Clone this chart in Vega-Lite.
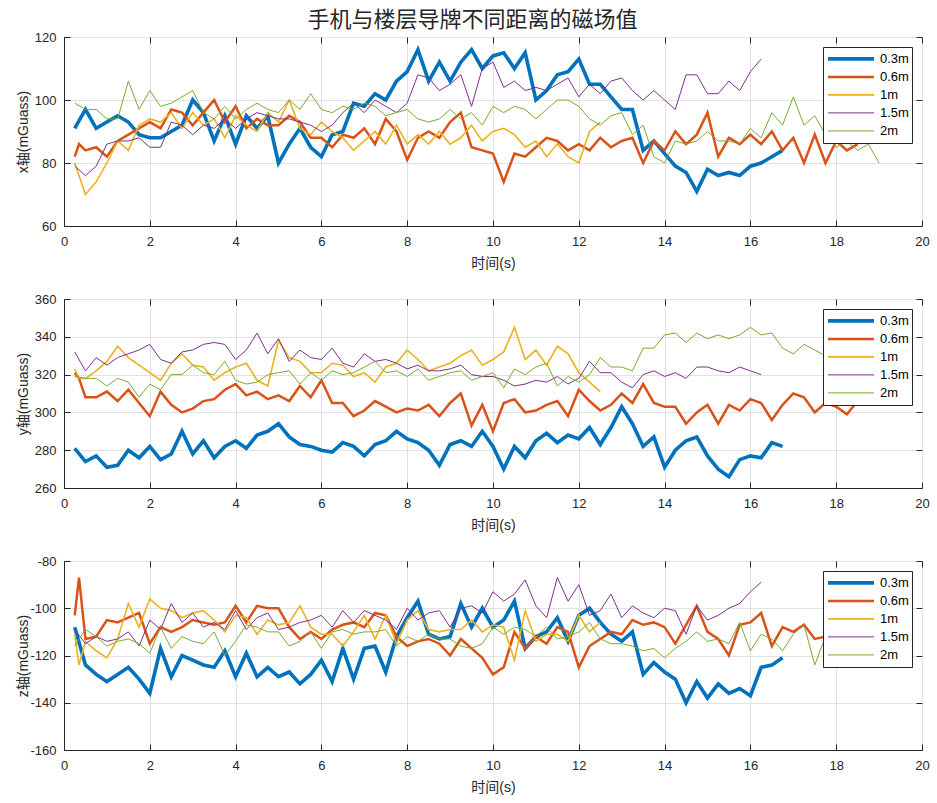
{
"$schema":"https://vega.github.io/schema/vega-lite/v6.json",
"padding":{"left":15,"top":8,"right":16,"bottom":7},
"title":{"text":"手机与楼层导牌不同距离的磁场值","font":"Noto Sans CJK SC","fontSize":22,"fontWeight":"normal","color":"#262626","anchor":"middle","offset":-1},
"data":{"values":[
{"s":"0.3m","t":0.25,"x":91,"y":281,"z":-108},
{"s":"0.3m","t":0.5,"x":97,"y":274,"z":-124},
{"s":"0.3m","t":0.75,"x":91,"y":277,"z":-128},
{"s":"0.3m","t":1.0,"x":93,"y":271,"z":-131},
{"s":"0.3m","t":1.25,"x":95,"y":272,"z":-128},
{"s":"0.3m","t":1.5,"x":93,"y":280,"z":-125},
{"s":"0.3m","t":1.75,"x":89,"y":276,"z":-130},
{"s":"0.3m","t":2.0,"x":88,"y":282,"z":-136},
{"s":"0.3m","t":2.25,"x":88,"y":275,"z":-117},
{"s":"0.3m","t":2.5,"x":90,"y":278,"z":-129},
{"s":"0.3m","t":2.75,"x":92,"y":290,"z":-120},
{"s":"0.3m","t":3.0,"x":100,"y":278,"z":-122},
{"s":"0.3m","t":3.25,"x":96,"y":285,"z":-124},
{"s":"0.3m","t":3.5,"x":87,"y":276,"z":-125},
{"s":"0.3m","t":3.75,"x":95,"y":282,"z":-118},
{"s":"0.3m","t":4.0,"x":86,"y":285,"z":-129},
{"s":"0.3m","t":4.25,"x":95,"y":281,"z":-119},
{"s":"0.3m","t":4.5,"x":91,"y":288,"z":-129},
{"s":"0.3m","t":4.75,"x":95,"y":290,"z":-125},
{"s":"0.3m","t":5.0,"x":80,"y":294,"z":-129},
{"s":"0.3m","t":5.25,"x":86,"y":287,"z":-127},
{"s":"0.3m","t":5.5,"x":91,"y":283,"z":-132},
{"s":"0.3m","t":5.75,"x":85,"y":282,"z":-128},
{"s":"0.3m","t":6.0,"x":82,"y":280,"z":-122},
{"s":"0.3m","t":6.25,"x":89,"y":279,"z":-131},
{"s":"0.3m","t":6.5,"x":90,"y":284,"z":-117},
{"s":"0.3m","t":6.75,"x":99,"y":282,"z":-130},
{"s":"0.3m","t":7.0,"x":98,"y":277,"z":-117},
{"s":"0.3m","t":7.25,"x":102,"y":283,"z":-116},
{"s":"0.3m","t":7.5,"x":100,"y":285,"z":-127},
{"s":"0.3m","t":7.75,"x":106,"y":290,"z":-112},
{"s":"0.3m","t":8.0,"x":109,"y":286,"z":-104},
{"s":"0.3m","t":8.25,"x":116,"y":284,"z":-97},
{"s":"0.3m","t":8.5,"x":106,"y":280,"z":-111},
{"s":"0.3m","t":8.75,"x":112,"y":272,"z":-113},
{"s":"0.3m","t":9.0,"x":106,"y":283,"z":-112},
{"s":"0.3m","t":9.25,"x":112,"y":285,"z":-98},
{"s":"0.3m","t":9.5,"x":116,"y":282,"z":-108},
{"s":"0.3m","t":9.75,"x":110,"y":290,"z":-100},
{"s":"0.3m","t":10.0,"x":114,"y":282,"z":-108},
{"s":"0.3m","t":10.25,"x":115,"y":270,"z":-105},
{"s":"0.3m","t":10.5,"x":110,"y":282,"z":-97},
{"s":"0.3m","t":10.75,"x":115,"y":276,"z":-117},
{"s":"0.3m","t":11.0,"x":100,"y":285,"z":-112},
{"s":"0.3m","t":11.25,"x":103,"y":289,"z":-110},
{"s":"0.3m","t":11.5,"x":108,"y":284,"z":-104},
{"s":"0.3m","t":11.75,"x":109,"y":288,"z":-114},
{"s":"0.3m","t":12.0,"x":113,"y":286,"z":-103},
{"s":"0.3m","t":12.25,"x":105,"y":292,"z":-100},
{"s":"0.3m","t":12.5,"x":105,"y":283,"z":-106},
{"s":"0.3m","t":12.75,"x":101,"y":292,"z":-111},
{"s":"0.3m","t":13.0,"x":97,"y":303,"z":-114},
{"s":"0.3m","t":13.25,"x":97,"y":294,"z":-110},
{"s":"0.3m","t":13.5,"x":84,"y":282,"z":-128},
{"s":"0.3m","t":13.75,"x":87,"y":287,"z":-123},
{"s":"0.3m","t":14.0,"x":83,"y":271,"z":-127},
{"s":"0.3m","t":14.25,"x":79,"y":280,"z":-130},
{"s":"0.3m","t":14.5,"x":77,"y":285,"z":-140},
{"s":"0.3m","t":14.75,"x":71,"y":287,"z":-131},
{"s":"0.3m","t":15.0,"x":78,"y":277,"z":-138},
{"s":"0.3m","t":15.25,"x":76,"y":270,"z":-132},
{"s":"0.3m","t":15.5,"x":77,"y":266,"z":-136},
{"s":"0.3m","t":15.75,"x":76,"y":275,"z":-134},
{"s":"0.3m","t":16.0,"x":79,"y":277,"z":-137},
{"s":"0.3m","t":16.25,"x":80,"y":276,"z":-125},
{"s":"0.3m","t":16.5,"x":82,"y":284,"z":-124},
{"s":"0.3m","t":16.75,"x":84,"y":282,"z":-121},
{"s":"0.6m","t":0.25,"x":82,"y":321,"z":-103},
{"s":"0.6m","t":0.35,"x":86,"y":318,"z":-87},
{"s":"0.6m","t":0.5,"x":84,"y":308,"z":-113},
{"s":"0.6m","t":0.75,"x":85,"y":308,"z":-112},
{"s":"0.6m","t":1.0,"x":82,"y":311,"z":-105},
{"s":"0.6m","t":1.25,"x":87,"y":306,"z":-106},
{"s":"0.6m","t":1.5,"x":89,"y":312,"z":-104},
{"s":"0.6m","t":1.75,"x":91,"y":305,"z":-102},
{"s":"0.6m","t":2.0,"x":93,"y":298,"z":-115},
{"s":"0.6m","t":2.25,"x":91,"y":311,"z":-108},
{"s":"0.6m","t":2.5,"x":97,"y":304,"z":-110},
{"s":"0.6m","t":2.75,"x":96,"y":300,"z":-108},
{"s":"0.6m","t":3.0,"x":92,"y":302,"z":-105},
{"s":"0.6m","t":3.25,"x":96,"y":306,"z":-106},
{"s":"0.6m","t":3.5,"x":100,"y":307,"z":-107},
{"s":"0.6m","t":3.75,"x":93,"y":312,"z":-106},
{"s":"0.6m","t":4.0,"x":98,"y":315,"z":-99},
{"s":"0.6m","t":4.25,"x":91,"y":309,"z":-106},
{"s":"0.6m","t":4.5,"x":94,"y":311,"z":-99},
{"s":"0.6m","t":4.75,"x":92,"y":307,"z":-100},
{"s":"0.6m","t":5.0,"x":92,"y":309,"z":-100},
{"s":"0.6m","t":5.25,"x":95,"y":306,"z":-108},
{"s":"0.6m","t":5.5,"x":93,"y":314,"z":-113},
{"s":"0.6m","t":5.75,"x":88,"y":308,"z":-110},
{"s":"0.6m","t":6.0,"x":88,"y":317,"z":-113},
{"s":"0.6m","t":6.25,"x":85,"y":305,"z":-109},
{"s":"0.6m","t":6.5,"x":89,"y":305,"z":-107},
{"s":"0.6m","t":6.75,"x":88,"y":298,"z":-106},
{"s":"0.6m","t":7.0,"x":91,"y":301,"z":-108},
{"s":"0.6m","t":7.25,"x":86,"y":306,"z":-102},
{"s":"0.6m","t":7.5,"x":94,"y":303,"z":-103},
{"s":"0.6m","t":7.75,"x":90,"y":300,"z":-112},
{"s":"0.6m","t":8.0,"x":81,"y":302,"z":-116},
{"s":"0.6m","t":8.25,"x":88,"y":301,"z":-114},
{"s":"0.6m","t":8.5,"x":90,"y":304,"z":-113},
{"s":"0.6m","t":8.75,"x":88,"y":298,"z":-115},
{"s":"0.6m","t":9.0,"x":93,"y":305,"z":-120},
{"s":"0.6m","t":9.25,"x":96,"y":310,"z":-113},
{"s":"0.6m","t":9.5,"x":85,"y":293,"z":-117},
{"s":"0.6m","t":9.75,"x":84,"y":304,"z":-121},
{"s":"0.6m","t":10.0,"x":83,"y":290,"z":-128},
{"s":"0.6m","t":10.25,"x":74,"y":305,"z":-125},
{"s":"0.6m","t":10.5,"x":83,"y":307,"z":-110},
{"s":"0.6m","t":10.75,"x":82,"y":300,"z":-117},
{"s":"0.6m","t":11.0,"x":85,"y":301,"z":-112},
{"s":"0.6m","t":11.25,"x":88,"y":304,"z":-115},
{"s":"0.6m","t":11.5,"x":87,"y":306,"z":-108},
{"s":"0.6m","t":11.75,"x":84,"y":298,"z":-110},
{"s":"0.6m","t":12.0,"x":86,"y":312,"z":-125},
{"s":"0.6m","t":12.25,"x":84,"y":306,"z":-116},
{"s":"0.6m","t":12.5,"x":88,"y":301,"z":-113},
{"s":"0.6m","t":12.75,"x":85,"y":304,"z":-110},
{"s":"0.6m","t":13.0,"x":87,"y":310,"z":-111},
{"s":"0.6m","t":13.25,"x":88,"y":305,"z":-105},
{"s":"0.6m","t":13.5,"x":80,"y":315,"z":-107},
{"s":"0.6m","t":13.75,"x":87,"y":305,"z":-106},
{"s":"0.6m","t":14.0,"x":84,"y":303,"z":-108},
{"s":"0.6m","t":14.25,"x":90,"y":303,"z":-115},
{"s":"0.6m","t":14.5,"x":86,"y":294,"z":-107},
{"s":"0.6m","t":14.75,"x":89,"y":300,"z":-99},
{"s":"0.6m","t":15.0,"x":96,"y":304,"z":-110},
{"s":"0.6m","t":15.25,"x":82,"y":294,"z":-113},
{"s":"0.6m","t":15.5,"x":88,"y":304,"z":-120},
{"s":"0.6m","t":15.75,"x":86,"y":301,"z":-107},
{"s":"0.6m","t":16.0,"x":89,"y":307,"z":-106},
{"s":"0.6m","t":16.25,"x":86,"y":305,"z":-102},
{"s":"0.6m","t":16.5,"x":90,"y":296,"z":-116},
{"s":"0.6m","t":16.75,"x":84,"y":304,"z":-108},
{"s":"0.6m","t":17.0,"x":88,"y":310,"z":-110},
{"s":"0.6m","t":17.25,"x":80,"y":308,"z":-107},
{"s":"0.6m","t":17.5,"x":89,"y":300,"z":-113},
{"s":"0.6m","t":17.75,"x":80,"y":305,"z":-112},
{"s":"0.6m","t":18.0,"x":87,"y":303,"z":-108},
{"s":"0.6m","t":18.25,"x":84,"y":299,"z":-114},
{"s":"0.6m","t":18.5,"x":86,"y":306,"z":-111},
{"s":"1m","t":0.25,"x":80,"y":323,"z":-111},
{"s":"1m","t":0.35,"x":76,"y":318,"z":-124},
{"s":"1m","t":0.5,"x":70,"y":318,"z":-114},
{"s":"1m","t":0.75,"x":74,"y":322,"z":-118},
{"s":"1m","t":1.0,"x":80,"y":327,"z":-121},
{"s":"1m","t":1.25,"x":87,"y":335,"z":-113},
{"s":"1m","t":1.5,"x":84,"y":329,"z":-98},
{"s":"1m","t":1.75,"x":92,"y":325,"z":-108},
{"s":"1m","t":2.0,"x":94,"y":321,"z":-96},
{"s":"1m","t":2.25,"x":93,"y":317,"z":-100},
{"s":"1m","t":2.5,"x":96,"y":326,"z":-101},
{"s":"1m","t":2.75,"x":91,"y":331,"z":-104},
{"s":"1m","t":3.0,"x":96,"y":325,"z":-102},
{"s":"1m","t":3.25,"x":92,"y":324,"z":-101},
{"s":"1m","t":3.5,"x":94,"y":317,"z":-105},
{"s":"1m","t":3.75,"x":88,"y":321,"z":-110},
{"s":"1m","t":4.0,"x":95,"y":324,"z":-103},
{"s":"1m","t":4.25,"x":92,"y":326,"z":-104},
{"s":"1m","t":4.5,"x":90,"y":317,"z":-111},
{"s":"1m","t":4.75,"x":96,"y":314,"z":-105},
{"s":"1m","t":5.0,"x":93,"y":338,"z":-107},
{"s":"1m","t":5.25,"x":100,"y":329,"z":-106},
{"s":"1m","t":5.5,"x":91,"y":327,"z":-99},
{"s":"1m","t":5.75,"x":89,"y":321,"z":-108},
{"s":"1m","t":6.0,"x":93,"y":321,"z":-111},
{"s":"1m","t":6.25,"x":90,"y":326,"z":-111},
{"s":"1m","t":6.5,"x":88,"y":325,"z":-116},
{"s":"1m","t":6.75,"x":84,"y":319,"z":-110},
{"s":"1m","t":7.0,"x":87,"y":321,"z":-103},
{"s":"1m","t":7.25,"x":90,"y":316,"z":-113},
{"s":"1m","t":7.5,"x":86,"y":324,"z":-103},
{"s":"1m","t":7.75,"x":92,"y":326,"z":-115},
{"s":"1m","t":8.0,"x":86,"y":333,"z":-105},
{"s":"1m","t":8.25,"x":89,"y":328,"z":-101},
{"s":"1m","t":8.5,"x":86,"y":322,"z":-109},
{"s":"1m","t":8.75,"x":90,"y":324,"z":-110},
{"s":"1m","t":9.0,"x":86,"y":326,"z":-109},
{"s":"1m","t":9.25,"x":88,"y":330,"z":-109},
{"s":"1m","t":9.5,"x":92,"y":333,"z":-105},
{"s":"1m","t":9.75,"x":87,"y":325,"z":-110},
{"s":"1m","t":10.0,"x":90,"y":328,"z":-107},
{"s":"1m","t":10.25,"x":91,"y":332,"z":-108},
{"s":"1m","t":10.5,"x":89,"y":345,"z":-122},
{"s":"1m","t":10.75,"x":85,"y":328,"z":-101},
{"s":"1m","t":11.0,"x":87,"y":333,"z":-114},
{"s":"1m","t":11.25,"x":82,"y":325,"z":-111},
{"s":"1m","t":11.5,"x":86,"y":335,"z":-111},
{"s":"1m","t":11.75,"x":82,"y":331,"z":-114},
{"s":"1m","t":12.0,"x":80,"y":321,"z":-103},
{"s":"1m","t":12.25,"x":90,"y":316,"z":-110},
{"s":"1m","t":12.5,"x":93,"y":311,"z":-106},
{"s":"1.5m","t":0.25,"x":79,"y":332,"z":-109},
{"s":"1.5m","t":0.5,"x":76,"y":322,"z":-115},
{"s":"1.5m","t":0.75,"x":79,"y":329,"z":-112},
{"s":"1.5m","t":1.0,"x":86,"y":325,"z":-114},
{"s":"1.5m","t":1.25,"x":87,"y":329,"z":-113},
{"s":"1.5m","t":1.5,"x":87,"y":331,"z":-110},
{"s":"1.5m","t":1.75,"x":88,"y":333,"z":-116},
{"s":"1.5m","t":2.0,"x":85,"y":336,"z":-105},
{"s":"1.5m","t":2.25,"x":85,"y":328,"z":-109},
{"s":"1.5m","t":2.5,"x":93,"y":326,"z":-98},
{"s":"1.5m","t":2.75,"x":92,"y":332,"z":-106},
{"s":"1.5m","t":3.0,"x":89,"y":333,"z":-102},
{"s":"1.5m","t":3.25,"x":92,"y":336,"z":-108},
{"s":"1.5m","t":3.5,"x":91,"y":337,"z":-106},
{"s":"1.5m","t":3.75,"x":94,"y":336,"z":-109},
{"s":"1.5m","t":4.0,"x":91,"y":328,"z":-101},
{"s":"1.5m","t":4.25,"x":94,"y":333,"z":-109},
{"s":"1.5m","t":4.5,"x":96,"y":342,"z":-104},
{"s":"1.5m","t":4.75,"x":95,"y":331,"z":-102},
{"s":"1.5m","t":5.0,"x":94,"y":339,"z":-109},
{"s":"1.5m","t":5.25,"x":94,"y":327,"z":-108},
{"s":"1.5m","t":5.5,"x":93,"y":333,"z":-106},
{"s":"1.5m","t":5.75,"x":92,"y":329,"z":-105},
{"s":"1.5m","t":6.0,"x":90,"y":328,"z":-103},
{"s":"1.5m","t":6.25,"x":92,"y":334,"z":-108},
{"s":"1.5m","t":6.5,"x":96,"y":326,"z":-101},
{"s":"1.5m","t":6.75,"x":99,"y":324,"z":-106},
{"s":"1.5m","t":7.0,"x":96,"y":331,"z":-101},
{"s":"1.5m","t":7.25,"x":100,"y":327,"z":-103},
{"s":"1.5m","t":7.5,"x":98,"y":328,"z":-105},
{"s":"1.5m","t":7.75,"x":96,"y":326,"z":-109},
{"s":"1.5m","t":8.0,"x":99,"y":323,"z":-100},
{"s":"1.5m","t":8.25,"x":108,"y":325,"z":-105},
{"s":"1.5m","t":8.5,"x":107,"y":322,"z":-102},
{"s":"1.5m","t":8.75,"x":103,"y":322,"z":-101},
{"s":"1.5m","t":9.0,"x":105,"y":323,"z":-108},
{"s":"1.5m","t":9.25,"x":108,"y":325,"z":-100},
{"s":"1.5m","t":9.5,"x":98,"y":320,"z":-99},
{"s":"1.5m","t":9.75,"x":110,"y":319,"z":-102},
{"s":"1.5m","t":10.0,"x":112,"y":319,"z":-93},
{"s":"1.5m","t":10.25,"x":104,"y":317,"z":-97},
{"s":"1.5m","t":10.5,"x":106,"y":314,"z":-94},
{"s":"1.5m","t":10.75,"x":103,"y":315,"z":-88},
{"s":"1.5m","t":11.0,"x":104,"y":317,"z":-99},
{"s":"1.5m","t":11.25,"x":103,"y":316,"z":-104},
{"s":"1.5m","t":11.5,"x":105,"y":319,"z":-87},
{"s":"1.5m","t":11.75,"x":107,"y":315,"z":-97},
{"s":"1.5m","t":12.0,"x":101,"y":318,"z":-90},
{"s":"1.5m","t":12.25,"x":105,"y":327,"z":-103},
{"s":"1.5m","t":12.5,"x":102,"y":321,"z":-101},
{"s":"1.5m","t":12.75,"x":106,"y":321,"z":-94},
{"s":"1.5m","t":13.0,"x":107,"y":316,"z":-104},
{"s":"1.5m","t":13.25,"x":103,"y":313,"z":-99},
{"s":"1.5m","t":13.5,"x":100,"y":320,"z":-102},
{"s":"1.5m","t":13.75,"x":103,"y":322,"z":-104},
{"s":"1.5m","t":14.0,"x":100,"y":319,"z":-100},
{"s":"1.5m","t":14.25,"x":97,"y":321,"z":-101},
{"s":"1.5m","t":14.5,"x":108,"y":318,"z":-111},
{"s":"1.5m","t":14.75,"x":108,"y":324,"z":-99},
{"s":"1.5m","t":15.0,"x":102,"y":324,"z":-105},
{"s":"1.5m","t":15.25,"x":102,"y":322,"z":-103},
{"s":"1.5m","t":15.5,"x":106,"y":321,"z":-100},
{"s":"1.5m","t":15.75,"x":103,"y":324,"z":-98},
{"s":"1.5m","t":16.0,"x":109,"y":322,"z":-93},
{"s":"1.5m","t":16.25,"x":113,"y":320,"z":-89},
{"s":"2m","t":0.25,"x":99,"y":319,"z":-116},
{"s":"2m","t":0.5,"x":97,"y":318,"z":-109},
{"s":"2m","t":0.75,"x":97,"y":318,"z":-112},
{"s":"2m","t":1.0,"x":94,"y":314,"z":-116},
{"s":"2m","t":1.25,"x":94,"y":318,"z":-114},
{"s":"2m","t":1.5,"x":106,"y":316,"z":-113},
{"s":"2m","t":1.75,"x":97,"y":308,"z":-115},
{"s":"2m","t":2.0,"x":103,"y":315,"z":-119},
{"s":"2m","t":2.25,"x":98,"y":312,"z":-108},
{"s":"2m","t":2.5,"x":99,"y":320,"z":-117},
{"s":"2m","t":2.75,"x":101,"y":320,"z":-112},
{"s":"2m","t":3.0,"x":103,"y":325,"z":-114},
{"s":"2m","t":3.25,"x":96,"y":321,"z":-115},
{"s":"2m","t":3.5,"x":94,"y":320,"z":-110},
{"s":"2m","t":3.75,"x":98,"y":327,"z":-120},
{"s":"2m","t":4.0,"x":94,"y":317,"z":-114},
{"s":"2m","t":4.25,"x":97,"y":315,"z":-107},
{"s":"2m","t":4.5,"x":99,"y":316,"z":-108},
{"s":"2m","t":4.75,"x":97,"y":320,"z":-110},
{"s":"2m","t":5.0,"x":96,"y":321,"z":-110},
{"s":"2m","t":5.25,"x":100,"y":322,"z":-116},
{"s":"2m","t":5.5,"x":97,"y":315,"z":-114},
{"s":"2m","t":5.75,"x":102,"y":321,"z":-110},
{"s":"2m","t":6.0,"x":97,"y":317,"z":-117},
{"s":"2m","t":6.25,"x":96,"y":322,"z":-110},
{"s":"2m","t":6.5,"x":98,"y":320,"z":-109},
{"s":"2m","t":6.75,"x":97,"y":321,"z":-111},
{"s":"2m","t":7.0,"x":99,"y":324,"z":-110},
{"s":"2m","t":7.25,"x":98,"y":327,"z":-110},
{"s":"2m","t":7.5,"x":95,"y":321,"z":-109},
{"s":"2m","t":7.75,"x":96,"y":322,"z":-116},
{"s":"2m","t":8.0,"x":97,"y":319,"z":-112},
{"s":"2m","t":8.25,"x":94,"y":323,"z":-114},
{"s":"2m","t":8.5,"x":93,"y":317,"z":-111},
{"s":"2m","t":8.75,"x":94,"y":319,"z":-113},
{"s":"2m","t":9.0,"x":97,"y":321,"z":-113},
{"s":"2m","t":9.25,"x":94,"y":322,"z":-116},
{"s":"2m","t":9.5,"x":96,"y":317,"z":-117},
{"s":"2m","t":9.75,"x":92,"y":319,"z":-115},
{"s":"2m","t":10.0,"x":98,"y":321,"z":-108},
{"s":"2m","t":10.25,"x":96,"y":313,"z":-111},
{"s":"2m","t":10.5,"x":98,"y":323,"z":-108},
{"s":"2m","t":10.75,"x":97,"y":320,"z":-109},
{"s":"2m","t":11.0,"x":94,"y":324,"z":-112},
{"s":"2m","t":11.25,"x":97,"y":326,"z":-108},
{"s":"2m","t":11.5,"x":100,"y":314,"z":-113},
{"s":"2m","t":11.75,"x":100,"y":319,"z":-112},
{"s":"2m","t":12.0,"x":98,"y":316,"z":-110},
{"s":"2m","t":12.25,"x":94,"y":320,"z":-106},
{"s":"2m","t":12.5,"x":92,"y":329,"z":-113},
{"s":"2m","t":12.75,"x":95,"y":324,"z":-115},
{"s":"2m","t":13.0,"x":96,"y":324,"z":-115},
{"s":"2m","t":13.25,"x":89,"y":322,"z":-116},
{"s":"2m","t":13.5,"x":92,"y":334,"z":-118},
{"s":"2m","t":13.75,"x":82,"y":334,"z":-117},
{"s":"2m","t":14.0,"x":80,"y":341,"z":-121},
{"s":"2m","t":14.25,"x":87,"y":342,"z":-117},
{"s":"2m","t":14.5,"x":86,"y":337,"z":-114},
{"s":"2m","t":14.75,"x":87,"y":342,"z":-110},
{"s":"2m","t":15.0,"x":90,"y":339,"z":-114},
{"s":"2m","t":15.25,"x":87,"y":341,"z":-113},
{"s":"2m","t":15.5,"x":87,"y":339,"z":-115},
{"s":"2m","t":15.75,"x":86,"y":341,"z":-106},
{"s":"2m","t":16.0,"x":91,"y":345,"z":-118},
{"s":"2m","t":16.25,"x":88,"y":341,"z":-111},
{"s":"2m","t":16.5,"x":96,"y":342,"z":-113},
{"s":"2m","t":16.75,"x":92,"y":334,"z":-118},
{"s":"2m","t":17.0,"x":101,"y":331,"z":-111},
{"s":"2m","t":17.25,"x":92,"y":336,"z":-107},
{"s":"2m","t":17.5,"x":95,"y":333,"z":-124},
{"s":"2m","t":17.75,"x":89,"y":330,"z":-112},
{"s":"2m","t":18.0,"x":85,"y":332,"z":-110},
{"s":"2m","t":18.25,"x":87,"y":328,"z":-115},
{"s":"2m","t":18.5,"x":84,"y":331,"z":-108},
{"s":"2m","t":18.75,"x":86,"y":327,"z":-112},
{"s":"2m","t":19.0,"x":80,"y":329,"z":-110}
]},
"spacing":73,
"bounds":"flush",
"vconcat":[
{"width":858,"height":189,
 "layer":[
  {"mark":{"type":"line","clip":true},
   "encoding":{
    "x":{"field":"t","type":"quantitative","scale":{"domain":[0,20],"nice":false},"axis":{"values":[0,2,4,6,8,10,12,14,16,18,20],"title":"时间(s)"}},
    "y":{"field":"x","type":"quantitative","scale":{"domain":[60,120],"nice":false},"axis":{"values":[60,80,100,120],"title":"x轴(mGuass)"}},
    "color":{"field":"s","type":"nominal","scale":{"domain":["0.3m","0.6m","1m","1.5m","2m"],"range":["#0072BD","#D95319","#EDB120","#7E2F8E","#77AC30"]},"legend":{"title":null}},
    "strokeWidth":{"field":"s","type":"nominal","scale":{"type":"ordinal","domain":["0.3m","0.6m","1m","1.5m","2m"],"range":[3.6,2.5,1.6,1,1]},"legend":{"title":null}}
   }},
  {"transform":[{"filter":"datum.s == '2m'"}],
   "mark":{"type":"line","strokeOpacity":0},
   "encoding":{
    "x":{"field":"t","type":"quantitative","axis":{"orient":"top","values":[0,2,4,6,8,10,12,14,16,18,20],"labels":false,"title":null,"grid":false,"domain":false}},
    "y":{"field":"x","type":"quantitative","axis":{"orient":"right","values":[60,80,100,120],"labels":false,"title":null,"grid":false,"domain":false}}
   }}
 ],
 "resolve":{"axis":{"x":"independent","y":"independent"}}},
{"width":858,"height":189,
 "layer":[
  {"mark":{"type":"line","clip":true},
   "encoding":{
    "x":{"field":"t","type":"quantitative","scale":{"domain":[0,20],"nice":false},"axis":{"values":[0,2,4,6,8,10,12,14,16,18,20],"title":"时间(s)"}},
    "y":{"field":"y","type":"quantitative","scale":{"domain":[260,360],"nice":false},"axis":{"values":[260,280,300,320,340,360],"title":"y轴(mGuass)"}},
    "color":{"field":"s","type":"nominal","scale":{"domain":["0.3m","0.6m","1m","1.5m","2m"],"range":["#0072BD","#D95319","#EDB120","#7E2F8E","#77AC30"]},"legend":{"title":null}},
    "strokeWidth":{"field":"s","type":"nominal","scale":{"type":"ordinal","domain":["0.3m","0.6m","1m","1.5m","2m"],"range":[3.6,2.5,1.6,1,1]},"legend":{"title":null}}
   }},
  {"transform":[{"filter":"datum.s == '2m'"}],
   "mark":{"type":"line","strokeOpacity":0},
   "encoding":{
    "x":{"field":"t","type":"quantitative","axis":{"orient":"top","values":[0,2,4,6,8,10,12,14,16,18,20],"labels":false,"title":null,"grid":false,"domain":false}},
    "y":{"field":"y","type":"quantitative","axis":{"orient":"right","values":[260,280,300,320,340,360],"labels":false,"title":null,"grid":false,"domain":false}}
   }}
 ],
 "resolve":{"axis":{"x":"independent","y":"independent"}}},
{"width":858,"height":189,
 "layer":[
  {"mark":{"type":"line","clip":true},
   "encoding":{
    "x":{"field":"t","type":"quantitative","scale":{"domain":[0,20],"nice":false},"axis":{"values":[0,2,4,6,8,10,12,14,16,18,20],"title":"时间(s)"}},
    "y":{"field":"z","type":"quantitative","scale":{"domain":[-160,-80],"nice":false},"axis":{"values":[-160,-140,-120,-100,-80],"labelExpr":"'' + datum.value","title":"z轴(mGuass)"}},
    "color":{"field":"s","type":"nominal","scale":{"domain":["0.3m","0.6m","1m","1.5m","2m"],"range":["#0072BD","#D95319","#EDB120","#7E2F8E","#77AC30"]},"legend":{"title":null}},
    "strokeWidth":{"field":"s","type":"nominal","scale":{"type":"ordinal","domain":["0.3m","0.6m","1m","1.5m","2m"],"range":[3.6,2.5,1.6,1,1]},"legend":{"title":null}}
   }},
  {"transform":[{"filter":"datum.s == '2m'"}],
   "mark":{"type":"line","strokeOpacity":0},
   "encoding":{
    "x":{"field":"t","type":"quantitative","axis":{"orient":"top","values":[0,2,4,6,8,10,12,14,16,18,20],"labels":false,"title":null,"grid":false,"domain":false}},
    "y":{"field":"z","type":"quantitative","axis":{"orient":"right","values":[-160,-140,-120,-100,-80],"labels":false,"title":null,"grid":false,"domain":false}}
   }}
 ],
 "resolve":{"axis":{"x":"independent","y":"independent"}}}
],
"resolve":{"scale":{"y":"independent","color":"independent","strokeWidth":"independent"},"legend":{"color":"independent","strokeWidth":"independent"}},
"config":{
 "view":{"stroke":"#262626","strokeWidth":1},
 "axis":{"grid":true,"gridColor":"#E2E2E2","gridWidth":1,"domainColor":"#262626","tickColor":"#262626","tickSize":-6,"labelFont":"Liberation Sans","labelFontSize":13,"labelColor":"#262626","titleFont":"Liberation Sans, Noto Sans CJK SC","titleFontSize":14,"titleFontWeight":"normal","titleColor":"#262626"},
 "axisBottom":{"labelPadding":15,"labelFlush":false,"titleY":30},
 "axisLeft":{"labelPadding":14,"titleX":-34,"titleY":94.5},
 "legend":{"orient":"top-right","offset":10,"padding":3,"rowPadding":0,"clipHeight":17.8,"symbolType":"stroke","symbolSize":2116,"labelFont":"Liberation Sans","labelFontSize":13,"labelColor":"#000000","labelOffset":4,"strokeColor":"#262626","fillColor":"#ffffff","cornerRadius":0}
}
}
